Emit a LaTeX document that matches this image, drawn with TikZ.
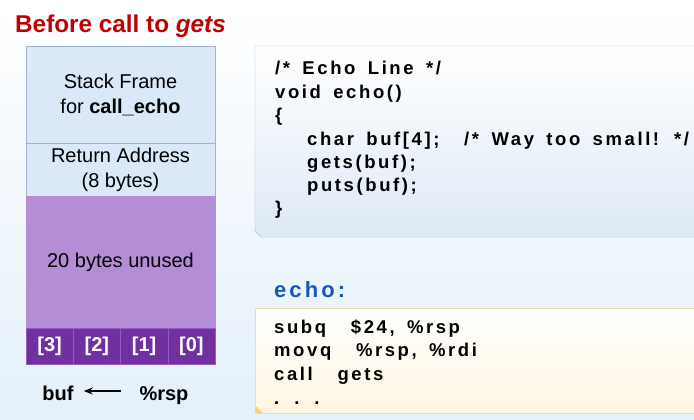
\documentclass[tikz,border=0pt]{standalone}
\usepackage{fontspec}
\setmainfont{Liberation Sans}
\newfontfamily\codefont[LetterSpace=14,WordSpace=1.6]{Liberation Sans}
\usetikzlibrary{arrows.meta}
\definecolor{titlered}{RGB}{192,0,0}
\definecolor{framefill}{RGB}{219,232,248}
\definecolor{frameline}{RGB}{158,180,210}
\definecolor{unusedfill}{RGB}{180,141,214}
\definecolor{cellfill}{RGB}{112,48,160}
\definecolor{cellline}{RGB}{140,92,192}
\definecolor{echoblue}{RGB}{26,86,184}
\definecolor{codeline}{RGB}{170,186,206}
\definecolor{codebottom}{RGB}{222,233,246}
\definecolor{asmline}{RGB}{232,222,180}
\definecolor{asmfill}{RGB}{255,247,226}
\definecolor{curl}{RGB}{240,214,120}
\definecolor{slidebottom}{RGB}{228,240,250}
\tikzset{
  stackbox/.style={draw=frameline, fill=framefill, minimum width=189pt, inner sep=0pt,
    align=center, font=\fontsize{20}{25}\selectfont},
  cellbox/.style={draw=cellline, fill=cellfill, text=white, minimum width=47.25pt,
    minimum height=36pt, inner sep=0pt, font=\fontsize{20}{24}\selectfont\bfseries},
  codetext/.style={anchor=base west, inner sep=0pt,
    font=\codefont\fontsize{18.5}{22}\selectfont\bfseries},
  pointer/.style={anchor=base, inner sep=0pt, text height=18pt, text depth=0pt,
    font=\fontsize{20}{24}\selectfont\bfseries}
}
\begin{document}
\begin{tikzpicture}[x=1pt,y=-1pt]
      \useasboundingbox (0,0) rectangle (694,420);
      \shade[top color=white, bottom color=slidebottom] (0,0) rectangle (694,420);
      \node[anchor=base west, inner sep=0pt, text=titlered,
        font=\fontsize{24.3}{28}\selectfont\bfseries] at (15,33) (title) {Before call to \textit{gets}};
      % stack
      \node[stackbox, minimum height=97pt] at (120.5,94.5) (frame) {Stack Frame\\for \textbf{call\_echo}};
      \node[stackbox, minimum height=53pt] at (120.5,169.5) (ret) {Return Address\\(8 bytes)};
      \node[stackbox, fill=unusedfill, draw=unusedfill, minimum height=132pt] at (120.5,262) (unused) {20 bytes unused};
      \node[cellbox] at (49.6,346) (b3) {[3]};
      \node[cellbox] at (96.9,346) (b2) {[2]};
      \node[cellbox] at (144.1,346) (b1) {[1]};
      \node[cellbox] at (191.4,346) (b0) {[0]};
      \node[pointer] at (58,400) (buf) {buf};
      \node[pointer] at (164,400) (rsp) {\%rsp};
      \draw[line width=1.6pt, -{Stealth[length=9pt,width=7pt]}, shorten <=18pt, shorten >=10pt] (rsp) -- (buf);
      % C code
      \draw[codeline, top color=white, bottom color=codebottom] (700,46) -- (255,46) -- (255,231) -- (261,237) -- (700,237);
      \node[codetext] at (275,75) (c1) {/* Echo Line */};
      \node[codetext] at (275,98.3) (c2) {void echo()};
      \node[codetext] at (275,121.6) (c3) {\{};
      \node[codetext] at (307,145) (c4) {char buf[4];~ /* Way too small! */};
      \node[codetext] at (307,168.2) (c5) {gets(buf);};
      \node[codetext] at (307,191.5) (c6) {puts(buf);};
      \node[codetext] at (275,214.8) (c7) {\}};
      % assembly
      \node[anchor=base west, inner sep=0pt, text=echoblue,
        font=\codefont\fontsize{22}{26}\selectfont\bfseries] at (274,297) (echo) {echo:};
      \draw[asmline, top color=white, bottom color=asmfill] (700,308) -- (255,308) -- (255,413) -- (700,413);
      \fill[curl] (255,405) -- (263,413) -- (255,413) -- cycle;
      \node[codetext] at (274,333) (a1) {subq~ \$24, \%rsp};
      \node[codetext] at (274,356.7) (a2) {movq~ \%rsp, \%rdi};
      \node[codetext] at (274,380.4) (a3) {call~ gets};
      \node[codetext] at (274,404) (a4) {. . .};
    \end{tikzpicture}
\end{document}
